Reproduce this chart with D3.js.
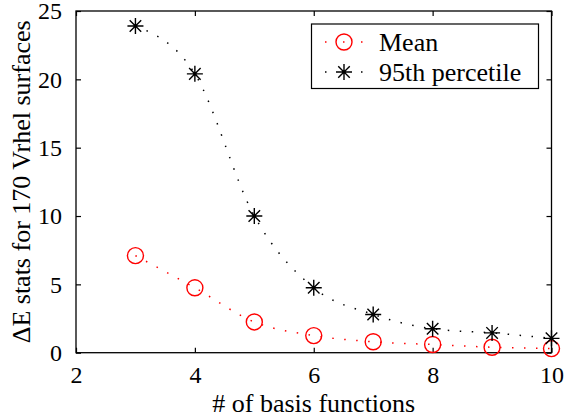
<!DOCTYPE html>
<html>
<head>
<meta charset="utf-8">
<script src="https://cdn.jsdelivr.net/npm/d3@7"></script>
<style>
  body { margin: 0; background: #fff; }
  text { font-family: "Liberation Serif", "Times New Roman", serif; fill: #000; }
</style>
</head>
<body>
<svg id="chart" width="566" height="418"></svg>
<script>
const basisCounts = [3, 4, 5, 6, 7, 8, 9, 10];
const meanValues = [7.1, 4.75, 2.25, 1.25, 0.8, 0.6, 0.4, 0.3];
const p95Values = [23.9, 20.4, 10.0, 4.75, 2.8, 1.75, 1.45, 1.05];
const xTicks = [2, 4, 6, 8, 10];
const yTicks = [0, 5, 10, 15, 20, 25];
const seriesNames = ['Mean', '95th percetile'];

const svg = d3.select('#chart');
const plotL = 76, plotR = 551.5, plotT = 11, plotB = 352.7;

const x = d3.scaleLinear().domain([2, 10]).range([plotL, plotR]);
const y = d3.scaleLinear().domain([0, 25]).range([plotB, plotT]);

// axes box
svg.append('rect')
    .attr('x', plotL).attr('y', plotT)
    .attr('width', plotR - plotL).attr('height', plotB - plotT)
    .attr('fill', 'none').attr('stroke', '#000').attr('stroke-width', 1.3);

// inward ticks on all four sides
const tickLen = 5;
const xAxisB = d3.axisBottom(x).tickValues(xTicks).tickSizeInner(-tickLen).tickSizeOuter(0).tickPadding(12);
const xAxisT = d3.axisTop(x).tickValues(xTicks).tickSizeInner(-tickLen).tickSizeOuter(0).tickFormat('');
const yAxisL = d3.axisLeft(y).tickValues(yTicks).tickSizeInner(-tickLen).tickSizeOuter(0).tickPadding(14);
const yAxisR = d3.axisRight(y).tickValues(yTicks).tickSizeInner(-tickLen).tickSizeOuter(0).tickFormat('');

function styleAxis(g) {
    g.select('.domain').remove();
    g.selectAll('line').attr('stroke', '#000').attr('stroke-width', 1.2);
    g.selectAll('text').style('font-size', '24px')
        .style('font-family', '"Liberation Serif", serif').attr('fill', '#000');
}
svg.append('g').attr('transform', `translate(0,${plotB})`).call(xAxisB).call(styleAxis)
    .selectAll('text').attr('dy', '0.75em');
svg.append('g').attr('transform', `translate(0,${plotT})`).call(xAxisT).call(styleAxis);
svg.append('g').attr('transform', `translate(${plotL},0)`).call(yAxisL).call(styleAxis);
svg.append('g').attr('transform', `translate(${plotR},0)`).call(yAxisR).call(styleAxis);

// axis labels
svg.append('text')
    .attr('x', (plotL + plotR) / 2).attr('y', 412)
    .attr('text-anchor', 'middle').style('font-size', '26px')
    .text('# of basis functions');
svg.append('text')
    .attr('transform', `translate(30,${(plotT + plotB) / 2}) rotate(-90)`)
    .attr('text-anchor', 'middle').style('font-size', '26px')
    .text('\u0394E stats for 170 Vrhel surfaces');

const line = d3.line().x((d, i) => x(basisCounts[i])).y(d => y(d)).curve(d3.curveMonotoneX);
const dotted = '1.5,10.5';

svg.append('path').datum(meanValues).attr('d', line)
    .attr('fill', 'none').attr('stroke', '#f00').attr('stroke-width', 1.5)
    .attr('stroke-dasharray', dotted);
svg.append('path').datum(p95Values).attr('d', line)
    .attr('fill', 'none').attr('stroke', '#000').attr('stroke-width', 1.5)
    .attr('stroke-dasharray', dotted);

function circleMarker(g, cx, cy) {
    g.append('circle').attr('cx', cx).attr('cy', cy).attr('r', 8)
        .attr('fill', 'none').attr('stroke', '#f00').attr('stroke-width', 1.4);
}
function starMarker(g, cx, cy) {
    const r = 8, d = r * 0.72;
    const path = `M${cx - r},${cy}L${cx + r},${cy}M${cx},${cy - r}L${cx},${cy + r}` +
        `M${cx - d},${cy - d}L${cx + d},${cy + d}M${cx - d},${cy + d}L${cx + d},${cy - d}`;
    g.append('path').attr('d', path).attr('stroke', '#000').attr('stroke-width', 1.4);
}

const marks = svg.append('g');
meanValues.forEach((v, i) => circleMarker(marks, x(basisCounts[i]), y(v)));
p95Values.forEach((v, i) => starMarker(marks, x(basisCounts[i]), y(v)));

// legend
const legend = svg.append('g');
legend.append('rect').attr('x', 311.5).attr('y', 24).attr('width', 227).attr('height', 64.5)
    .attr('fill', '#fff').attr('stroke', '#000').attr('stroke-width', 1.2);
const rows = [{ y: 42, color: '#f00', marker: circleMarker }, { y: 72, color: '#000', marker: starMarker }];
rows.forEach((r, i) => {
    legend.append('line').attr('x1', 325).attr('x2', 364).attr('y1', r.y).attr('y2', r.y)
        .attr('stroke', r.color).attr('stroke-width', 1.5).attr('stroke-dasharray', '1.5,16.5');
    r.marker(legend, 344, r.y);
    legend.append('text').attr('x', 379).attr('y', r.y + 9).style('font-size', '26px').text(seriesNames[i]);
});
</script>
</body>
</html>
